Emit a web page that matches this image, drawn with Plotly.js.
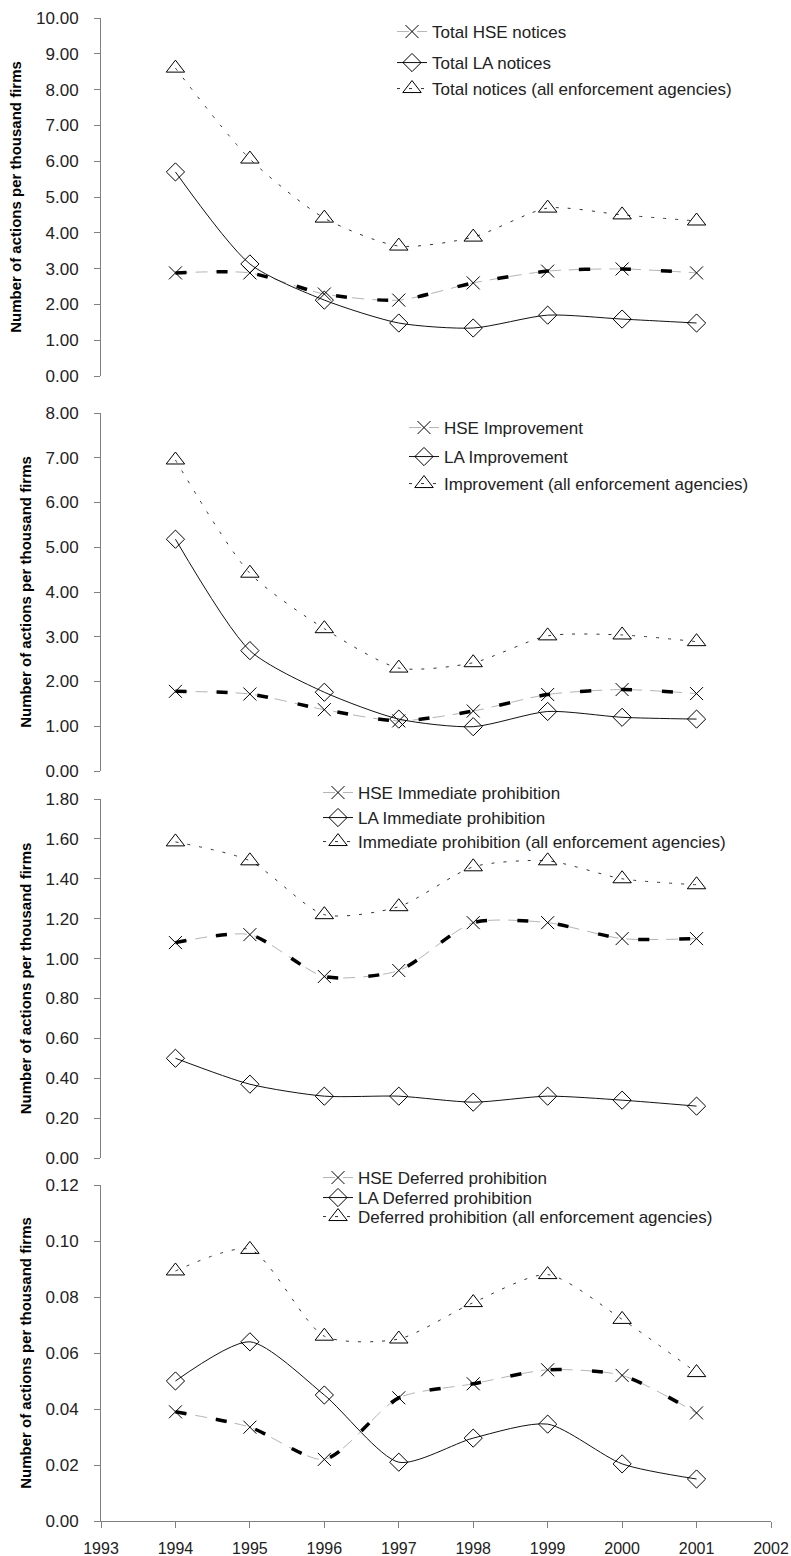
<!DOCTYPE html>
<html>
<head>
<meta charset="utf-8">
<script src="https://cdn.plot.ly/plotly-3.0.1.min.js"></script>
<style>
  html, body { margin: 0; padding: 0; background: #ffffff; }
  #chart { width: 791px; height: 1556px; }
</style>
</head>
<body>
<div id="chart"></div>
<script>
// ---- Data ----
const years = [1994, 1995, 1996, 1997, 1998, 1999, 2000, 2001];

// Panel 1: total notices
const hseTotal = [2.88, 2.88, 2.29, 2.12, 2.60, 2.93, 2.99, 2.88];
const laTotal  = [5.70, 3.13, 2.12, 1.48, 1.34, 1.70, 1.59, 1.48];
const allTotal = [8.60, 6.06, 4.41, 3.63, 3.88, 4.69, 4.50, 4.33];

// Panel 2: improvement notices
const hseImp = [1.78, 1.72, 1.37, 1.12, 1.34, 1.71, 1.82, 1.73];
const laImp  = [5.18, 2.69, 1.76, 1.16, 0.99, 1.33, 1.20, 1.16];
const allImp = [6.95, 4.42, 3.18, 2.30, 2.42, 3.02, 3.04, 2.89];

// Panel 3: immediate prohibition
const hseImm = [1.08, 1.12, 0.91, 0.94, 1.18, 1.18, 1.10, 1.10];
const laImm  = [0.50, 0.37, 0.31, 0.31, 0.28, 0.31, 0.29, 0.26];
const allImm = [1.585, 1.49, 1.22, 1.26, 1.46, 1.49, 1.40, 1.37];

// Panel 4: deferred prohibition
const hseDef = [0.039, 0.0335, 0.022, 0.044, 0.049, 0.054, 0.052, 0.0386];
const laDef  = [0.050, 0.064, 0.045, 0.021, 0.0296, 0.0346, 0.0204, 0.015];
const allDef = [0.0893, 0.097, 0.066, 0.065, 0.078, 0.088, 0.072, 0.053];

const panelNames = [
  ["Total HSE notices", "Total LA notices", "Total notices (all enforcement agencies)"],
  ["HSE Improvement", "LA Improvement", "Improvement (all enforcement agencies)"],
  ["HSE Immediate prohibition", "LA Immediate prohibition", "Immediate prohibition (all enforcement agencies)"],
  ["HSE Deferred prohibition", "LA Deferred prohibition", "Deferred prohibition (all enforcement agencies)"]
];
const panelData = [
  [hseTotal, laTotal, allTotal],
  [hseImp, laImp, allImp],
  [hseImm, laImm, allImm],
  [hseDef, laDef, allDef]
];
const yTitle = "Number of actions per thousand firms";

// ---- Styling / layout helpers ----
const FONT = "Liberation Sans, Arial, sans-serif";
const W = 791, H = 1556;
const ML = 101, MR = 20, MT = 18, MB = 35;
const PW = W - ML - MR, PH = H - MT - MB;
const px2x = p => (p - ML) / PW;
const px2y = p => (H - MB - p) / PH;

const yaxisIds = ["y", "y2", "y3", "y4"];
// pixel extents of each panel (top, bottom)
const panelPx = [[18, 376], [413, 771], [799, 1158], [1185, 1521]];
const yRanges = [[0, 10], [0, 8], [0, 1.8], [0, 0.12]];
const yDticks = [1, 1, 0.2, 0.02];

// legend rows: text start x, row centres y
const legendPos = [
  {x: 434, rows: [32, 63, 89]},
  {x: 446, rows: [428, 457, 484]},
  {x: 360, rows: [793, 818, 842]},
  {x: 360, rows: [1178, 1198, 1217]}
];

const traces = [];
const layout = {
  width: W, height: H,
  margin: {l: ML, r: MR, t: MT, b: MB, pad: 0},
  paper_bgcolor: "#ffffff",
  plot_bgcolor: "#ffffff",
  font: {family: FONT, color: "#222222"},
  showlegend: true,
  xaxis: {
    domain: [0, 1], range: [1993, 2002], anchor: "y4",
    tickmode: "linear", tick0: 1993, dtick: 1,
    ticks: "outside", ticklen: 6, tickcolor: "#808080", tickwidth: 1,
    showline: true, linecolor: "#808080", linewidth: 1,
    showgrid: false, zeroline: false,
    tickfont: {family: FONT, size: 16, color: "#222222"},
    ticklabelstandoff: 7
  }
};

let legendIdx = 0;
for (let p = 0; p < 4; p++) {
  const yid = yaxisIds[p];
  const [hse, la, all] = panelData[p];
  const names = panelNames[p];
  const lg = () => { legendIdx++; return legendIdx === 1 ? "legend" : "legend" + legendIdx; };

  const l1 = lg(), l2 = lg(), l3 = lg();
  // HSE: thin light-grey dashed
  traces.push({
    x: years, y: hse, xaxis: "x", yaxis: yid, name: names[0], legend: l1,
    mode: "lines+markers", line: {color: "#b4b4b4", width: 1, dash: "12px,8px", shape: "spline", smoothing: 0.7},
    marker: {symbol: "x-thin-open", size: 13, color: "#000000", line: {color: "#000000", width: 1}}
  });
  // heavy black dash artefact over HSE line
  traces.push({
    x: years, y: hse, xaxis: "x", yaxis: yid, showlegend: false, hoverinfo: "skip",
    mode: "lines", line: {color: "#000000", width: 3.5, dash: "11px,30px", shape: "spline", smoothing: 0.7}
  });
  // LA: solid black
  traces.push({
    x: years, y: la, xaxis: "x", yaxis: yid, name: names[1], legend: l2,
    mode: "lines+markers", line: {color: "#111111", width: 1, shape: "spline", smoothing: 0.7},
    marker: {symbol: "diamond-open", size: 14, color: "#000000", line: {color: "#000000", width: 1}}
  });
  // All agencies: dotted
  traces.push({
    x: years, y: all, xaxis: "x", yaxis: yid, name: names[2], legend: l3,
    mode: "lines+markers", line: {color: "#333333", width: 1, dash: "3px,9px", shape: "spline", smoothing: 0.7},
    marker: {symbol: "triangle-up-open", size: 16, color: "#000000", line: {color: "#000000", width: 1}}
  });

  const [top, bot] = panelPx[p];
  layout[p === 0 ? "yaxis" : "yaxis" + (p + 1)] = {
    domain: [px2y(bot), px2y(top)], range: yRanges[p], anchor: "x",
    tickmode: "linear", tick0: 0, dtick: yDticks[p], tickformat: ".2f",
    ticks: "outside", ticklen: 6, tickcolor: "#808080", tickwidth: 1,
    showline: true, linecolor: "#808080", linewidth: 1,
    showgrid: false, zeroline: false,
    tickfont: {family: FONT, size: 17, color: "#222222"},
    ticklabelstandoff: 12,
    title: {text: yTitle, standoff: 10, font: {family: FONT, size: 15, weight: "bold", color: "#000000"}}
  };

  const lp = legendPos[p];
  [l1, l2, l3].forEach((lid, i) => {
    layout[lid] = {
      x: px2x(lp.x - 42), y: px2y(lp.rows[i]), xanchor: "left", yanchor: "middle",
      bgcolor: "rgba(0,0,0,0)", borderwidth: 0,
      font: {family: FONT, size: 17, color: "#222222"}
    };
  });
}

Plotly.newPlot("chart", traces, layout, {staticPlot: true, displayModeBar: false});
</script>
</body>
</html>
